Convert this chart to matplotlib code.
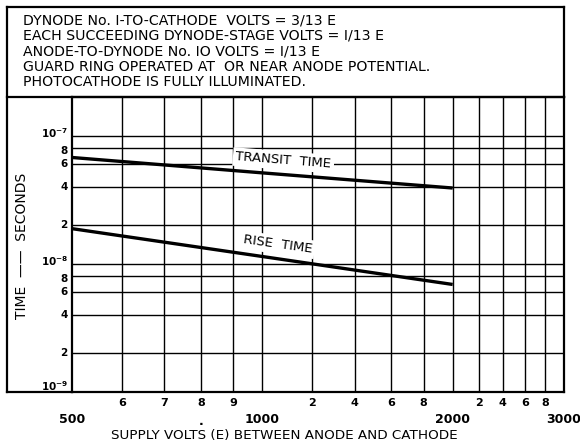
import matplotlib
matplotlib.use("Agg")
import matplotlib.pyplot as plt
from matplotlib.lines import Line2D
from matplotlib.transforms import blended_transform_factory, offset_copy

plt.rcParams['font.family'] = ['DejaVu Sans']

# curve data
volts = [500, 1000, 2000]
transit_time = [6.75e-8, 5.12e-8, 3.9e-8]
rise_time = [1.88e-8, 1.14e-8, 6.9e-9]

# grid / tick values
x_grid = [600, 700, 800, 900, 1000, 1200, 1400, 1600, 1800, 2000, 2200, 2400, 2600, 2800]
x_small = ['6', '7', '8', '9', '', '2', '4', '6', '8', '', '2', '4', '6', '8']
x_big = [500, 1000, 2000, 3000]
y_grid = [1e-9, 2e-9, 4e-9, 6e-9, 8e-9, 1e-8, 2e-8, 4e-8, 6e-8, 8e-8, 1e-7]
y_labels = [r'$\mathbf{10^{-9}}$', '2', '4', '6', '8', r'$\mathbf{10^{-8}}$',
            '2', '4', '6', '8', r'$\mathbf{10^{-7}}$']
# small vertical nudges (points) so the crowded labels don't collide
y_nudge = [4, 0, 0, 0, -2, 2, 0, 0, 0, -2, 2]

notes = [
    "DYNODE No. I-TO-CATHODE  VOLTS = 3/13 E",
    "EACH SUCCEEDING DYNODE-STAGE VOLTS = I/13 E",
    "ANODE-TO-DYNODE No. IO VOLTS = I/13 E",
    "GUARD RING OPERATED AT  OR NEAR ANODE POTENTIAL.",
    "PHOTOCATHODE IS FULLY ILLUMINATED.",
]

W, H = 580, 444
fig = plt.figure(figsize=(W / 100, H / 100), dpi=100)

def fx(px):
    return px / W

def fy(py):
    return 1 - py / H

ax = fig.add_axes([fx(72), fy(392), fx(564) - fx(72), fy(97) - fy(392)])
ax.set_xscale('log')
ax.set_yscale('log')
ax.set_xlim(500, 3000)
ax.set_ylim(1e-9, 2e-7)

for xv in x_grid:
    ax.axvline(xv, color='black', lw=1.0, zorder=1)
for yv in y_grid:
    ax.axhline(yv, color='black', lw=1.0, zorder=1)

ax.plot(volts, transit_time, color='black', lw=2.4, solid_capstyle='butt', zorder=3)
ax.plot(volts, rise_time, color='black', lw=2.4, solid_capstyle='butt', zorder=3)

box = dict(facecolor='white', edgecolor='none', pad=2)
ax.text(1080, 6.4e-8, 'TRANSIT  TIME', rotation=-4.5, ha='center', va='center',
        fontsize=9.5, bbox=box, zorder=4)
ax.text(1057, 1.41e-8, 'RISE  TIME', rotation=-8, ha='center', va='center',
        fontsize=9.5, bbox=box, zorder=4)

ax.set_xticks(x_grid)
ax.set_xticklabels(x_small, fontsize=8, fontweight='bold')
ax.xaxis.set_minor_locator(matplotlib.ticker.NullLocator())
ax.set_yticks([])
ax.yaxis.set_minor_locator(matplotlib.ticker.NullLocator())
ax.tick_params(length=0, pad=4)

ytrans = blended_transform_factory(ax.transAxes, ax.transData)
for yv, lab, dy in zip(y_grid, y_labels, y_nudge):
    t = offset_copy(ytrans, fig=fig, x=-3, y=dy, units='points')
    ax.text(0, yv, lab, transform=t, ha='right', va='center',
            fontsize=7.5, fontweight='bold')

trans = blended_transform_factory(ax.transData, ax.transAxes)
for xv in x_big:
    ax.text(xv, -0.092, str(xv), transform=trans, ha='center', va='center',
            fontsize=9, fontweight='bold')
ax.text(800, -0.10, '.', transform=trans, ha='center', va='center', fontsize=9,
        fontweight='bold')

for s in ax.spines.values():
    s.set_linewidth(1.6)

fig.text(fx(284), fy(435), 'SUPPLY VOLTS (E) BETWEEN ANODE AND CATHODE',
         ha='center', va='center', fontsize=9.7)
fig.text(fx(22), fy(246), 'TIME  \u2014\u2014  SECONDS', rotation=90, ha='center',
         va='center', fontsize=10)

# header box and outer frame
frame = dict(color='black', lw=1.6, transform=fig.transFigure)
fig.add_artist(Line2D([fx(7), fx(564)], [fy(7), fy(7)], **frame))
fig.add_artist(Line2D([fx(7), fx(564)], [fy(97), fy(97)], **frame))
fig.add_artist(Line2D([fx(564), fx(564)], [fy(7), fy(97)], **frame))
fig.add_artist(Line2D([fx(7), fx(7)], [fy(7), fy(392)], **frame))
fig.add_artist(Line2D([fx(7), fx(72)], [fy(392), fy(392)], **frame))

for i, line in enumerate(notes):
    fig.text(fx(23), fy(20.5 + 15.4 * i), line, ha='left', va='center', fontsize=10.2)

fig.savefig('out.png', dpi=100)
